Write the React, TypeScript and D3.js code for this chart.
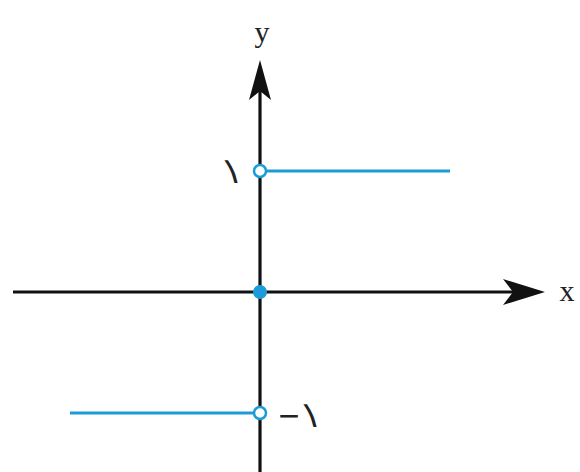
import React, { useRef, useEffect } from 'react'
import * as d3 from 'd3'

// sign function pieces
const segXs = [[-2, 0], [0, 2]]
const segYs = [-1, 1]
const openPts = [[0, 1], [0, -1]]
const filledPts = [[0, 0]]
const yTickVals = [1, -1]
const yTickLabels = ['۱', '۱']
const yTickSigns = ['', '−']

const App = () => {
  const ref = useRef<SVGSVGElement>(null)

  useEffect(() => {
    const svg = d3.select(ref.current)
    svg.selectAll('*').remove()
    const H = 472
    const x = d3.scaleLinear().domain([-2.6, 3.0]).range([13, 545])
    const y = d3.scaleLinear().domain([-1, 1]).range([413, 171])
    const x0 = x(0)
    const y0 = y(0)
    const blue = '#1b9cd8'
    const ink = '#222'

    // axes
    svg.append('line')
      .attr('x1', x(-2.6)).attr('x2', x(3.0) - 20)
      .attr('y1', y0).attr('y2', y0)
      .attr('stroke', '#111').attr('stroke-width', 3.2)
    svg.append('line')
      .attr('x1', x0).attr('x2', x0)
      .attr('y1', H).attr('y2', 82)
      .attr('stroke', '#111').attr('stroke-width', 3.2)

    // arrow heads
    const tipX = x(3.0)
    svg.append('path')
      .attr('d', `M${tipX},${y0} L${tipX - 42},${y0 - 13} L${tipX - 32},${y0} L${tipX - 42},${y0 + 13} Z`)
      .attr('fill', '#111')
    const tipY = 60
    svg.append('path')
      .attr('d', `M${x0},${tipY} L${x0 - 11},${tipY + 40} L${x0},${tipY + 31} L${x0 + 11},${tipY + 40} Z`)
      .attr('fill', '#111')

    svg.append('text')
      .attr('x', tipX + 22).attr('y', y0 + 9)
      .attr('text-anchor', 'middle')
      .attr('font-family', 'Liberation Serif, serif')
      .attr('font-size', 30)
      .attr('fill', ink)
      .text('x')
    svg.append('text')
      .attr('x', x0 + 2).attr('y', 42)
      .attr('text-anchor', 'middle')
      .attr('font-family', 'Liberation Serif, serif')
      .attr('font-size', 30)
      .attr('fill', ink)
      .text('y')

    // segments
    segXs.forEach((xs, i) => {
      svg.append('line')
        .attr('x1', x(xs[0])).attr('x2', x(xs[1]))
        .attr('y1', y(segYs[i])).attr('y2', y(segYs[i]))
        .attr('stroke', blue).attr('stroke-width', 3)
    })

    // tick labels (persian digits, slanted)
    const digitPos = [[x0 - 25, y(yTickVals[0]) + 12], [x0 + 54, y(yTickVals[1]) + 14]]
    yTickLabels.forEach((lab, i) => {
      svg.append('text')
        .attr('transform', `translate(${digitPos[i][0]},${digitPos[i][1]}) skewX(14)`)
        .attr('text-anchor', 'middle')
        .attr('font-family', 'DejaVu Sans, sans-serif')
        .attr('font-size', 36)
        .attr('fill', ink)
        .text(lab)
      if (yTickSigns[i]) {
        svg.append('text')
          .attr('x', digitPos[i][0] - 25).attr('y', digitPos[i][1] - 2)
          .attr('text-anchor', 'middle')
          .attr('font-family', 'DejaVu Sans, sans-serif')
          .attr('font-size', 28)
          .attr('fill', ink)
          .text(yTickSigns[i])
      }
    })

    svg.selectAll('circle.open')
      .data(openPts)
      .enter()
      .append('circle')
      .attr('class', 'open')
      .attr('cx', d => x(d[0])).attr('cy', d => y(d[1]))
      .attr('r', 6)
      .attr('fill', '#fff')
      .attr('stroke', blue).attr('stroke-width', 2.5)

    svg.selectAll('circle.filled')
      .data(filledPts)
      .enter()
      .append('circle')
      .attr('class', 'filled')
      .attr('cx', d => x(d[0])).attr('cy', d => y(d[1]))
      .attr('r', 7)
      .attr('fill', blue)
  }, [])

  return (
    <svg ref={ref} width={580} height={472}
      style={{ position: 'absolute', left: 0, top: 0, background: '#fff' }} />
  )
}

export default App
